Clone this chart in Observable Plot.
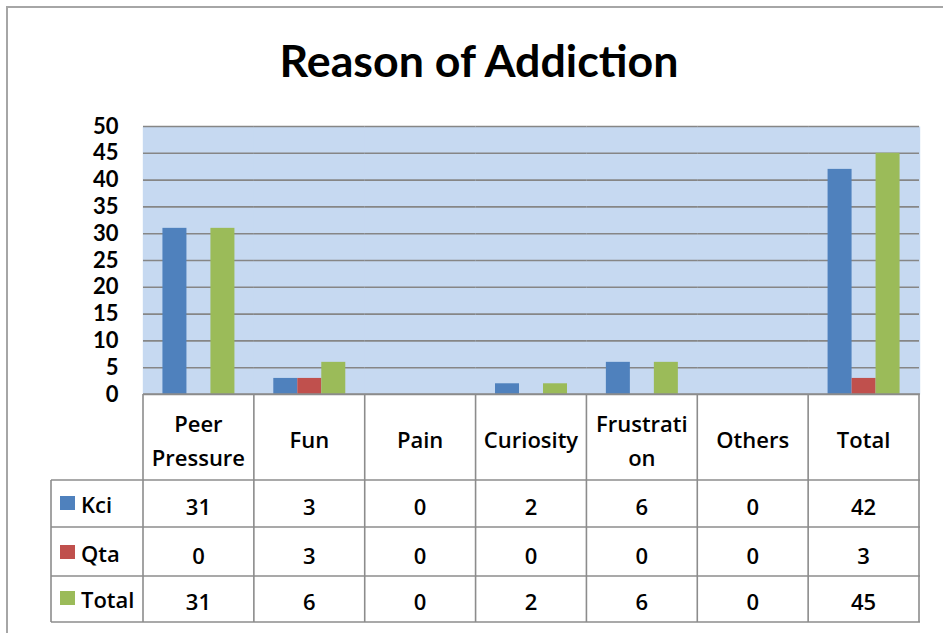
<!DOCTYPE html>
<html><head><meta charset="utf-8">
<script src="https://cdn.jsdelivr.net/npm/d3@7"></script>
<script src="https://cdn.jsdelivr.net/npm/@observablehq/plot@0.6"></script>
<style>
html,body{margin:0;padding:0;background:#fff;}
#wrap{position:relative;width:943px;height:633px;overflow:hidden;font-family:"Open Sans",Lato,sans-serif;}
#chart{position:absolute;left:0;top:0;}
#overlay{position:absolute;left:0;top:0;}
#chart g[aria-label="y-axis tick label"]{fill:#000;}
</style></head><body>
<div id="wrap"><div id="chart"></div><svg id="overlay" width="943" height="633"></svg></div>
<script>
const title = "Reason of Addiction";
const categories = ["Peer Pressure", "Fun", "Pain", "Curiosity", "Frustration", "Others", "Total"];
const headerLabels = [["Peer", "Pressure"], ["Fun"], ["Pain"], ["Curiosity"], ["Frustrati", "on"], ["Others"], ["Total"]];
const seriesNames = ["Kci", "Qta", "Total"];
const seriesColors = ["#4f81bd", "#c0504d", "#9bbb59"];
const kci = [31, 3, 0, 2, 6, 0, 42];
const qta = [0, 3, 0, 0, 0, 0, 3];
const total = [31, 6, 0, 2, 6, 0, 45];
const yTicks = [0, 5, 10, 15, 20, 25, 30, 35, 40, 45, 50];

const seriesValues = [kci, qta, total];
const data = categories.flatMap((c, i) => seriesNames.map((s, j) => ({category: c, series: s, value: seriesValues[j][i]})));
const FONT = "'Open Sans', Lato, sans-serif";

const plot = Plot.plot({
  width: 943, height: 396,
  marginLeft: 143, marginRight: 24, marginTop: 126, marginBottom: 2,
  style: {fontFamily: "Lato, 'Open Sans', sans-serif", fontSize: "22px", fontWeight: 700, color: "#868686", background: "transparent", overflow: "visible"},
  fx: {domain: categories, paddingInner: 0, paddingOuter: 0, round: false, axis: null, label: null},
  x: {domain: seriesNames, paddingInner: 0, paddingOuter: 0.81, round: false, axis: null},
  y: {domain: [0, 50], ticks: yTicks, line: true, tickSize: 0, tickPadding: 25, label: null},
  color: {domain: seriesNames, range: seriesColors},
  marks: [
    Plot.frame({fill: "#c6d9f1", stroke: null, insetLeft: -0.7, insetRight: -0.7}),
    Plot.gridY(yTicks, {stroke: "#868686", strokeOpacity: 1, strokeWidth: 1.6}),
    Plot.barY(data, {fx: "category", x: "series", y: "value", fill: "series"})
  ]
});
document.getElementById("chart").appendChild(plot);

// Data table and title, positioned from the plot's own scales
const fxs = plot.scale("fx");
const ys = plot.scale("y");
const colLeft = c => fxs.apply ? fxs.apply(c) : 143 + categories.indexOf(c) * (776 / 7);
const bw = fxs.bandwidth || 776 / 7;
const tableTop = ys.apply ? ys.apply(0) : 394;
const rowH = [86, 47, 49, 46];
const rowY = [tableTop];
rowH.forEach(h => rowY.push(rowY[rowY.length - 1] + h));
const plotLeft = colLeft(categories[0]);
const plotRight = colLeft(categories[categories.length - 1]) + bw;
const legendLeft = 51;

const svg = d3.select("#overlay");
const lineColor = "#8c8c8c";
// outer chart frame
svg.append("path").attr("d", "M7,633V7H943").attr("fill", "none").attr("stroke", "#a6a6a6").attr("stroke-width", 2);
// title
svg.append("text").attr("x", 479).attr("y", 77).attr("text-anchor", "middle")
  .attr("font-family", "Lato, 'Open Sans', sans-serif").attr("font-weight", 700).attr("font-size", 44)
  .attr("textLength", 399).attr("lengthAdjust", "spacingAndGlyphs").attr("fill", "#000").text(title);

const g = svg.append("g").attr("stroke", lineColor).attr("stroke-width", 1.6);
// horizontal lines
g.append("line").attr("x1", plotLeft).attr("x2", plotRight + 1).attr("y1", rowY[0]).attr("y2", rowY[0]);
for (let r = 1; r < rowY.length; r++) g.append("line").attr("x1", legendLeft).attr("x2", plotRight + 1).attr("y1", rowY[r]).attr("y2", rowY[r]);
// vertical lines
g.append("line").attr("x1", legendLeft).attr("x2", legendLeft).attr("y1", rowY[1]).attr("y2", rowY[4]);
g.append("line").attr("x1", plotLeft).attr("x2", plotLeft).attr("y1", rowY[0]).attr("y2", rowY[4]);
categories.forEach(c => {
  const x = colLeft(c) + bw;
  g.append("line").attr("x1", x).attr("x2", x).attr("y1", rowY[0]).attr("y2", rowY[4]);
});

const tg = svg.append("g").attr("font-family", FONT).attr("font-weight", 600).attr("font-size", 22).attr("fill", "#000");
// header labels
categories.forEach((c, i) => {
  const cx = colLeft(c) + bw / 2;
  const lines = headerLabels[i];
  const base = lines.length === 1 ? [rowY[0] + 54] : [rowY[0] + 38, rowY[0] + 72];
  lines.forEach((t, k) => tg.append("text").attr("x", cx).attr("y", base[k]).attr("text-anchor", "middle").text(t));
});
// value rows
seriesNames.forEach((s, j) => {
  const yb = rowY[j + 2] - 12;
  svg.append("rect").attr("x", 60).attr("y", yb - 19).attr("width", 15).attr("height", 14).attr("fill", seriesColors[j]);
  tg.append("text").attr("x", 81).attr("y", yb - 2).text(s);
  categories.forEach((c, i) => {
    tg.append("text").attr("x", colLeft(c) + bw / 2).attr("y", yb).attr("text-anchor", "middle").text(seriesValues[j][i]);
  });
});
</script>
</body></html>
